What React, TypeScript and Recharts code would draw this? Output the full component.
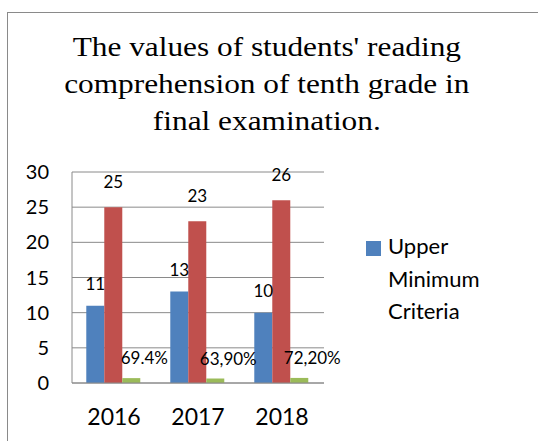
import { BarChart, Bar, XAxis, YAxis, CartesianGrid, LabelList } from "recharts";

const years = ["2016", "2017", "2018"];
const upperMinimum = [11, 13, 10];
const secondSeries = [25, 23, 26];
const percentValues = [0.694, 0.639, 0.722];
const percentLabels = ["69.4%", "63,90%", "72,20%"];
const yTicks = [0, 5, 10, 15, 20, 25, 30];
const legendLabel = "Upper Minimum Criteria";
const titleLines = [
  "The values of students' reading",
  "comprehension of tenth grade in",
  "final examination.",
];

const data = years.map((year, i) => ({
  year,
  upper: upperMinimum[i],
  second: secondSeries[i],
  pct: percentValues[i],
}));

const FONT = "Lato, 'Open Sans', sans-serif";

const PercentLabel = (props: any) => {
  const { x, y, width, index } = props;
  return (
    <text
      x={x + width / 2 + 13}
      y={y - 14}
      textAnchor="middle"
      fontSize={17}
      fontFamily={FONT}
      fill="#000"
    >
      {percentLabels[index]}
    </text>
  );
};

export default function App() {
  return (
    <div
      style={{
        position: "absolute",
        left: 0,
        top: 0,
        width: 538,
        height: 441,
        overflow: "hidden",
        background: "#fff",
      }}
    >
      <div
        style={{
          position: "absolute",
          left: 7,
          top: 12,
          width: 700,
          height: 600,
          borderLeft: "1px solid #8a8a8a",
          borderTop: "1px solid #8a8a8a",
        }}
      />
      {/* title, stretched a bit to match the wider serif of the original */}
      <div
        style={{
          position: "absolute",
          left: 20,
          top: 29,
          width: 500,
          textAlign: "center",
          fontFamily: "'Liberation Serif', 'Times New Roman', serif",
          fontSize: 27,
          lineHeight: "37px",
          color: "#000",
          transform: "scaleX(1.16)",
          transformOrigin: "270px 0",
        }}
      >
        {titleLines.map((line) => (
          <div key={line}>{line}</div>
        ))}
      </div>
      <div style={{ position: "absolute", left: 0, top: 0 }}>
        <BarChart
          width={538}
          height={441}
          data={data}
          margin={{ top: 172, right: 214, bottom: 0, left: 0 }}
          barCategoryGap="17%"
          barGap={0}
        >
          <CartesianGrid vertical={false} stroke="#8a8a8a" strokeWidth={1} />
          <XAxis
            dataKey="year"
            height={58}
            tickLine={false}
            axisLine={{ stroke: "#8a8a8a" }}
            tickMargin={20}
            tick={{ fontSize: 23, fontFamily: FONT, fill: "#000" }}
          />
          <YAxis
            width={72}
            domain={[0, 30]}
            ticks={yTicks}
            interval={0}
            tickLine={false}
            axisLine={{ stroke: "#8a8a8a" }}
            tickMargin={17}
            tick={{ fontSize: 20, fontFamily: FONT, fill: "#000" }}
          />
          <Bar dataKey="upper" name={legendLabel} fill="#4F81BD" isAnimationActive={false}>
            <LabelList
              dataKey="upper"
              position="top"
              offset={16}
              fontSize={17}
              fontFamily={FONT}
              fill="#000"
            />
          </Bar>
          <Bar dataKey="second" fill="#C0504D" isAnimationActive={false}>
            <LabelList
              dataKey="second"
              position="top"
              offset={19}
              fontSize={17}
              fontFamily={FONT}
              fill="#000"
            />
          </Bar>
          <Bar dataKey="pct" fill="#9BBB59" isAnimationActive={false}>
            <LabelList dataKey="pct" content={<PercentLabel />} />
          </Bar>
        </BarChart>
      </div>
      {/* legend: only the first series is listed in the original */}
      <div
        style={{
          position: "absolute",
          left: 366,
          top: 230,
          display: "flex",
          alignItems: "flex-start",
          fontFamily: FONT,
        }}
      >
        <div
          style={{
            width: 15,
            height: 15,
            background: "#4F81BD",
            marginTop: 11,
            marginRight: 7,
            flexShrink: 0,
          }}
        />
        <div style={{ fontSize: 22, lineHeight: "32.5px", width: 120, color: "#000" }}>
          {legendLabel}
        </div>
      </div>
    </div>
  );
}
